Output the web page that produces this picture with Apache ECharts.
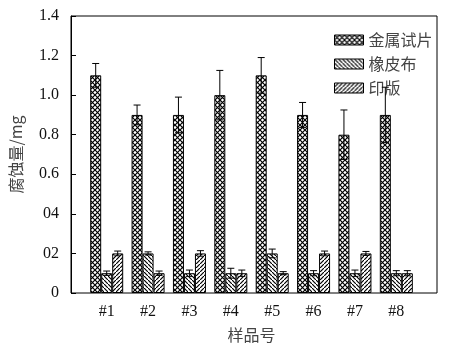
<!DOCTYPE html>
<html>
<head>
<meta charset="utf-8">
<style type="text/css">
    html, body { margin: 0; padding: 0; background: #fff; }
    #main { width: 452px; height: 354px; }
</style>
<script type="text/javascript" src="https://cdn.jsdelivr.net/npm/echarts@6/dist/echarts.min.js"></script>
</head>
<body>
<div id="main"></div>
<script type="text/javascript">
    // 数据
    var categories = ['#1', '#2', '#3', '#4', '#5', '#6', '#7', '#8'];
    var seriesNames = ['金属试片', '橡皮布', '印版'];
    var metal = [1.1, 0.9, 0.9, 1.0, 1.1, 0.9, 0.8, 0.9];
    var metalErr = [0.06, 0.05, 0.09, 0.125, 0.09, 0.063, 0.125, 0.14];
    var rubber = [0.1, 0.2, 0.1, 0.1, 0.2, 0.1, 0.1, 0.1];
    var rubberErr = [0.011, 0.008, 0.016, 0.025, 0.022, 0.013, 0.016, 0.013];
    var plate = [0.2, 0.1, 0.2, 0.1, 0.1, 0.2, 0.2, 0.1];
    var plateErr = [0.012, 0.011, 0.014, 0.016, 0.008, 0.012, 0.01, 0.013];
    var yTickLabels = ['0', '02', '04', '0.6', '0.8', '1.0', '1.2', '1.4'];

    var BAR_W = 11;
    var CAP = 7;
    var serif = "'Liberation Serif', 'DejaVu Serif', 'Times New Roman', serif";
    var cjk = "'Noto Sans CJK SC', sans-serif";

    // 填充图案
    function makePattern(kind) {
        var s = kind === 'cross' ? 5 : 4;
        var c = document.createElement('canvas');
        c.width = s; c.height = s;
        var ctx = c.getContext('2d');
        ctx.fillStyle = '#fff';
        ctx.fillRect(0, 0, s, s);
        ctx.strokeStyle = '#000';
        ctx.lineWidth = 1.2;
        ctx.beginPath();
        if (kind === 'cross' || kind === 'back') {
            ctx.moveTo(-1, -1); ctx.lineTo(s + 1, s + 1);
        }
        if (kind === 'cross' || kind === 'fwd') {
            ctx.moveTo(-1, s + 1); ctx.lineTo(s + 1, -1);
        }
        ctx.stroke();
        return { image: c, repeat: 'repeat' };
    }

    function errData(vals, errs) {
        return vals.map(function (v, i) { return [i, v - errs[i], v + errs[i]]; });
    }

    function errRender(slot) {
        return function (params, api) {
            var lo = api.coord([api.value(0), api.value(1)]);
            var hi = api.coord([api.value(0), api.value(2)]);
            var x = lo[0] + slot * BAR_W;
            var h = CAP / 2;
            var st = { stroke: '#000', lineWidth: 1 };
            return {
                type: 'group',
                children: [
                    { type: 'line', shape: { x1: x, y1: lo[1], x2: x, y2: hi[1] }, style: st },
                    { type: 'line', shape: { x1: x - h, y1: hi[1], x2: x + h, y2: hi[1] }, style: st },
                    { type: 'line', shape: { x1: x - h, y1: lo[1], x2: x + h, y2: lo[1] }, style: st }
                ]
            };
        };
    }

    function barSeries(name, data, pattern) {
        return {
            name: name,
            type: 'bar',
            xAxisIndex: 1,
            yAxisIndex: 1,
            barWidth: BAR_W,
            barGap: '0%',
            itemStyle: { color: pattern, borderColor: '#000', borderWidth: 1 },
            data: data
        };
    }

    function errSeries(data, errs, slot) {
        return {
            type: 'custom',
            xAxisIndex: 1,
            yAxisIndex: 1,
            z: 5,
            silent: true,
            renderItem: errRender(slot),
            data: errData(data, errs)
        };
    }

    var myChart = echarts.init(document.getElementById('main'));
    myChart.setOption({
        animation: false,
        grid: [
            { left: 65, right: 15, top: 16, bottom: 61, show: true, borderColor: '#000', borderWidth: 1, backgroundColor: 'transparent' },
            { left: 86, right: 35, top: 16, bottom: 61 }
        ],
        legend: {
            data: seriesNames,
            orient: 'vertical',
            left: 329,
            top: 27,
            icon: 'rect',
            itemWidth: 29,
            itemHeight: 10,
            itemGap: 8,
            itemStyle: { borderColor: '#000', borderWidth: 1 },
            textStyle: { fontFamily: cjk, fontSize: 16, color: '#444' }
        },
        xAxis: [
            { gridIndex: 0, type: 'value', min: 0, max: 1, show: false },
            {
                gridIndex: 1,
                type: 'category',
                data: categories,
                axisLine: { show: false },
                axisTick: { show: false },
                axisLabel: { margin: 11, fontFamily: serif, fontSize: 16, color: '#111' },
                name: '样品号',
                nameLocation: 'middle',
                nameGap: 34,
                nameTextStyle: { fontFamily: cjk, fontSize: 16, color: '#444' }
            }
        ],
        yAxis: [
            {
                gridIndex: 0,
                type: 'value',
                min: 0,
                max: 1.4,
                interval: 0.2,
                splitLine: { show: false },
                axisLine: { show: true, lineStyle: { color: '#000', width: 1 } },
                axisTick: { show: true, inside: true, length: 5, lineStyle: { color: '#000' } },
                axisLabel: {
                    margin: 12,
                    fontFamily: serif,
                    fontSize: 16,
                    color: '#111',
                    formatter: function (v) { return yTickLabels[Math.round(v / 0.2)]; }
                },
                name: '腐蚀量/mg',
                nameLocation: 'middle',
                nameGap: 47,
                nameTextStyle: { fontFamily: cjk, fontSize: 16, color: '#444' }
            },
            { gridIndex: 1, type: 'value', min: 0, max: 1.4, show: false }
        ],
        series: [
            barSeries(seriesNames[0], metal, makePattern('cross')),
            barSeries(seriesNames[1], rubber, makePattern('back')),
            barSeries(seriesNames[2], plate, makePattern('fwd')),
            errSeries(metal, metalErr, -1),
            errSeries(rubber, rubberErr, 0),
            errSeries(plate, plateErr, 1)
        ]
    });
</script>
</body>
</html>
